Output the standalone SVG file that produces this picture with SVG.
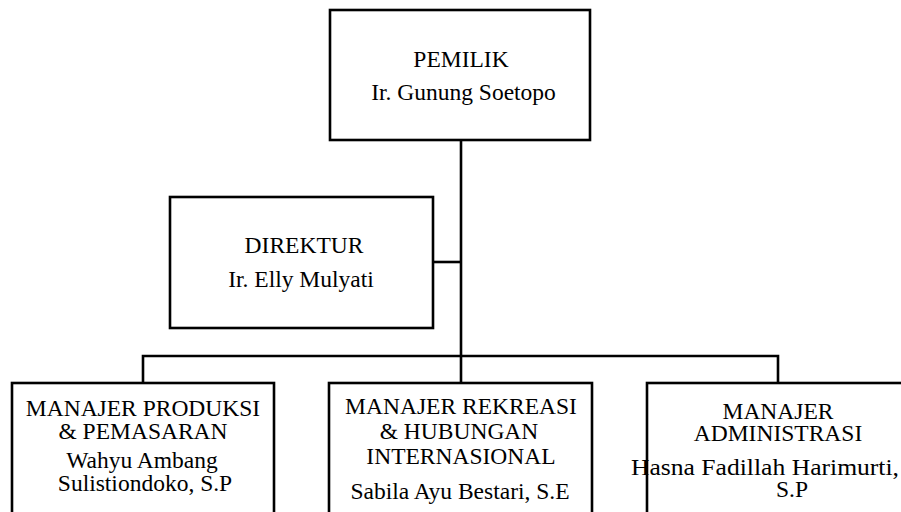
<svg xmlns="http://www.w3.org/2000/svg" width="901" height="512" viewBox="0 0 901 512">
<style>
.box{fill:#fff;stroke:#000;stroke-width:2.6}
.ln{fill:none;stroke:#000;stroke-width:2.6}
.t{font-family:"Liberation Serif","Times New Roman",serif;font-size:23.5px;fill:#000;text-anchor:middle}
</style>
<rect width="901" height="512" fill="#fff"/>
<g id="connectors">
<path class="ln" d="M461 140 V356"/>
<path class="ln" d="M433 262 H461"/>
<path class="ln" d="M143 383 V356 H778 V383"/>
<path class="ln" d="M461 356 V383"/>
</g>
<g id="pemilik">
<rect class="box" x="330" y="10" width="260" height="130"/>
<text class="t" x="461" y="67">PEMILIK</text>
<text class="t" x="463.5" y="100">Ir. Gunung Soetopo</text>
</g>
<g id="direktur">
<rect class="box" x="170" y="197" width="263" height="131"/>
<text class="t" x="304" y="253">DIREKTUR</text>
<text class="t" x="301" y="287">Ir. Elly Mulyati</text>
</g>
<g id="manajer-produksi">
<rect class="box" x="12" y="383" width="262" height="140"/>
<text class="t" x="143" y="416">MANAJER PRODUKSI</text>
<text class="t" x="143" y="439">&amp; PEMASARAN</text>
<text class="t" x="142" y="468">Wahyu Ambang</text>
<text class="t" x="145" y="491">Sulistiondoko, S.P</text>
</g>
<g id="manajer-rekreasi">
<rect class="box" x="329" y="383" width="263" height="140"/>
<text class="t" x="461" y="414">MANAJER REKREASI</text>
<text class="t" x="459" y="439">&amp; HUBUNGAN</text>
<text class="t" x="461" y="464">INTERNASIONAL</text>
<text class="t" x="460" y="499">Sabila Ayu Bestari, S.E</text>
</g>
<g id="manajer-administrasi">
<rect class="box" x="647" y="383" width="262" height="140"/>
<text class="t" x="778" y="419">MANAJER</text>
<text class="t" x="778" y="441">ADMINISTRASI</text>
<text class="t" x="631" y="475" style="text-anchor:start" textLength="268" lengthAdjust="spacingAndGlyphs">Hasna Fadillah Harimurti,</text>
<text class="t" x="792" y="497">S.P</text>
</g>
</svg>
